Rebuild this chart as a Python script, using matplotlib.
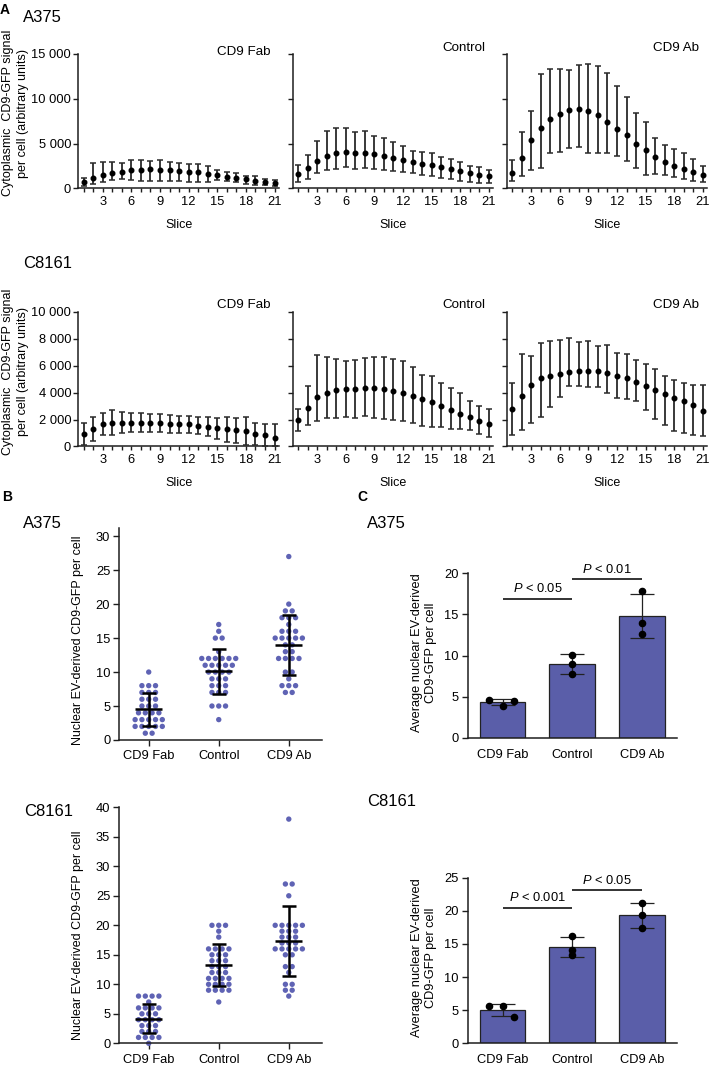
import matplotlib
matplotlib.use("Agg")
import matplotlib.pyplot as plt
import numpy as np
from matplotlib.ticker import FuncFormatter, MultipleLocator, FixedLocator

plt.rcParams['font.family'] = ['Liberation Sans', 'DejaVu Sans']
plt.rcParams['mathtext.fontset'] = 'custom'
plt.rcParams['mathtext.it'] = 'Liberation Sans:italic'
plt.rcParams['mathtext.rm'] = 'Liberation Sans'

# ---------------- data: panel A (mean, lower / upper error limits) ----------------
slices = np.arange(1, 22)
treatments = ["CD9 Fab", "Control", "CD9 Ab"]

a375_fab_mean = [675, 1200, 1500, 1725, 1875, 1990, 2060, 2100, 2060, 2025, 1950, 1875, 1800, 1650, 1500, 1310, 1200, 1010, 825, 710, 600]
a375_fab_hi = [1125, 2850, 2925, 2890, 2850, 3110, 3150, 3075, 3150, 2960, 2850, 2740, 2700, 2475, 1990, 1800, 1725, 1425, 1350, 1050, 975]
a375_fab_lo = [225, 500, 675, 975, 1050, 975, 860, 860, 860, 860, 860, 675, 675, 675, 975, 860, 675, 490, 375, 375, 225]

a375_ctl_mean = [1610, 2290, 3040, 3600, 3940, 4000, 3975, 3940, 3790, 3600, 3375, 3150, 2925, 2740, 2625, 2360, 2175, 1950, 1725, 1540, 1350]
a375_ctl_hi = [2550, 3750, 5290, 6400, 6750, 6700, 6300, 6375, 5890, 5590, 5175, 4760, 4200, 4050, 3900, 3450, 3260, 2960, 2475, 2360, 2025]
a375_ctl_lo = [675, 1050, 1725, 2000, 2175, 2325, 2175, 2250, 2100, 2060, 1910, 1840, 1690, 1500, 1425, 1200, 1050, 860, 750, 560, 560]

a375_ab_mean = [1725, 3375, 5400, 6790, 7690, 8290, 8700, 8850, 8625, 8210, 7425, 6640, 5960, 4990, 4240, 3525, 2925, 2475, 2100, 1800, 1460]
a375_ab_hi = [3110, 6340, 8660, 12750, 13275, 13300, 13240, 13760, 13900, 13690, 12900, 11400, 10200, 8440, 7350, 5625, 4875, 4390, 3940, 3225, 2510]
a375_ab_lo = [860, 1350, 2000, 2250, 3940, 4050, 4540, 4575, 3940, 3940, 3900, 3600, 3075, 2290, 1540, 1610, 1460, 1310, 1050, 790, 750]

c8161_fab_mean = [950, 1300, 1700, 1775, 1775, 1775, 1775, 1750, 1750, 1675, 1650, 1650, 1550, 1475, 1350, 1275, 1200, 1150, 950, 825, 600]
c8161_fab_hi = [1775, 2200, 2525, 2700, 2575, 2500, 2475, 2450, 2425, 2325, 2300, 2275, 2200, 2200, 2150, 2200, 2150, 2175, 1775, 1650, 1650]
c8161_fab_lo = [125, 400, 875, 850, 975, 1050, 1075, 1050, 1075, 1025, 1000, 1025, 900, 750, 550, 350, 250, 125, 125, 0, 0]

c8161_ctl_mean = [2000, 2875, 3675, 4000, 4175, 4250, 4300, 4350, 4325, 4275, 4150, 4000, 3775, 3525, 3300, 3000, 2725, 2450, 2200, 1875, 1650]
c8161_ctl_hi = [2800, 4525, 6800, 6625, 6525, 6375, 6425, 6600, 6675, 6650, 6500, 6350, 5875, 5350, 5250, 4750, 4325, 3950, 3400, 3000, 2825]
c8161_ctl_lo = [1150, 1600, 1875, 2125, 2125, 2200, 2150, 2275, 2100, 2025, 2000, 1875, 1750, 1525, 1450, 1450, 1325, 1300, 1225, 900, 700]

c8161_ab_mean = [2775, 3750, 4550, 5075, 5275, 5375, 5550, 5625, 5625, 5600, 5500, 5275, 5075, 4775, 4500, 4200, 3875, 3600, 3350, 3075, 2650]
c8161_ab_hi = [4725, 6875, 6725, 7700, 7875, 7900, 8050, 7775, 7825, 7500, 7550, 6950, 6850, 6450, 6150, 5750, 5275, 4950, 4725, 4600, 4600]
c8161_ab_lo = [850, 1225, 1775, 2225, 2900, 3650, 4525, 4475, 4400, 4400, 4000, 3600, 3525, 3400, 2700, 2075, 1575, 1125, 1000, 850, 750]

# ---------------- data: panel B (per-cell values) ----------------
b_a375_fab = [10, 8, 8, 8, 7, 7, 7, 6, 6, 6, 5, 5, 5, 4, 4, 4, 4, 3, 3, 3, 3, 3, 2, 2, 2, 2, 2, 1, 1]
b_a375_ctl = [17, 16, 15, 15, 13, 12, 12, 12, 12, 12, 12, 11, 11, 11, 11, 11, 10, 10, 10, 10,
              9, 9, 9, 8, 8, 8, 7, 7, 7, 5, 5, 5, 3]
b_a375_ab = [27, 20, 19, 19, 18, 18, 18, 17, 16, 16, 16, 15, 15, 15, 15, 15, 14, 14, 13, 13,
             12, 12, 12, 12, 10, 10, 9, 8, 8, 8, 7, 7]
b_c8161_fab = [8, 8, 8, 8, 7, 6, 6, 6, 6, 5, 5, 5, 4, 4, 4, 4, 3, 3, 3, 2, 2, 2, 1, 1, 1, 1, 0]
b_c8161_ctl = [20, 20, 20, 19, 18, 16, 16, 16, 16, 15, 15, 15, 14, 14, 14, 13, 13, 13, 12, 12, 12,
               11, 11, 11, 11, 10, 10, 10, 10, 9, 9, 9, 9, 7]
b_c8161_ab = [38, 27, 27, 25, 20, 20, 20, 20, 20, 19, 19, 19, 18, 18, 18, 17, 17, 17, 16, 16, 16, 16, 16,
              15, 15, 13, 13, 12, 10, 10, 9, 9, 8]

# ---------------- data: panel C (replicate averages) ----------------
c_a375_reps = [[4.6, 3.9, 4.45], [10.1, 9.0, 7.7], [17.8, 14.0, 12.6]]
c_c8161_reps = [[5.6, 5.6, 4.0], [16.2, 14.1, 13.3], [21.2, 19.3, 17.4]]
c_a375_p = [("$P$ < 0.05", 0, 1, 16.9), ("$P$ < 0.01", 1, 2, 19.3)]
c_c8161_p = [("$P$ < 0.001", 0, 1, 20.5), ("$P$ < 0.05", 1, 2, 23.1)]

# ---------------- figure ----------------
W, H = 709, 1067
fig = plt.figure(figsize=(W / 100, H / 100), dpi=100)
INK = "#1e1e1e"
DOT_BLUE = "#5f63b4"
BAR_BLUE = "#5a5ea9"
TICK_FS = 9.3
TITLE_FS = 12


def px_axes(left, top, right, bottom):
    return fig.add_axes([left / W, 1 - bottom / H, (right - left) / W, (bottom - top) / H])


def ftext(x, y, s, **kw):
    kw.setdefault("va", "center")
    return fig.text(x / W, 1 - y / H, s, **kw)


def style(ax, lw=1.1):
    for sp in ("top", "right"):
        ax.spines[sp].set_visible(False)
    for sp in ("left", "bottom"):
        ax.spines[sp].set_linewidth(lw)
        ax.spines[sp].set_color(INK)


thousands = FuncFormatter(lambda v, p: f"{int(round(v)):,}".replace(",", " "))

# ---------------- Panel A ----------------
ftext(0, 10, "A", fontsize=10, fontweight="bold", ha="left")
ftext(23, 18, "A375", fontsize=TITLE_FS, ha="left")
ftext(23, 264, "C8161", fontsize=TITLE_FS, ha="left")

rows = [
    dict(top=54, bottom=188.3, ymax=15000, ystep=5000, ylab_y=113,
         series=[(a375_fab_mean, a375_fab_lo, a375_fab_hi),
                 (a375_ctl_mean, a375_ctl_lo, a375_ctl_hi),
                 (a375_ab_mean, a375_ab_lo, a375_ab_hi)], label_y=[52, 48, 48]),
    dict(top=312, bottom=446.5, ymax=10000, ystep=2000, ylab_y=372,
         series=[(c8161_fab_mean, c8161_fab_lo, c8161_fab_hi),
                 (c8161_ctl_mean, c8161_ctl_lo, c8161_ctl_hi),
                 (c8161_ab_mean, c8161_ab_lo, c8161_ab_hi)], label_y=[305, 305, 305]),
]
panel_left = [78.3, 292.7, 506.7]
slice_px = 9.55
x0 = 0.45
x1 = 21.45
for row in rows:
    hgt = row["bottom"] - row["top"]
    for i, (m, lo, hi) in enumerate(row["series"]):
        L = panel_left[i]
        R = L + (x1 - x0) * slice_px
        ax = px_axes(L, row["top"], R, row["bottom"])
        m = np.array(m, float)
        lo = np.array(lo, float)
        hi = np.array(hi, float)
        ax.errorbar(slices, m, yerr=[m - lo, hi - m], fmt="o", ms=3.3, color="black",
                    ecolor="#2a2a2a", elinewidth=1.3, capsize=2.4, capthick=1.1, clip_on=False, zorder=3)
        ax.set_xlim(x0, x1)
        ax.set_ylim(0, row["ymax"])
        style(ax)
        ax.xaxis.set_major_locator(FixedLocator(np.arange(3, 22, 3)))
        ax.xaxis.set_minor_locator(MultipleLocator(1))
        ax.yaxis.set_major_locator(MultipleLocator(row["ystep"]))
        ax.yaxis.set_major_formatter(thousands)
        ax.tick_params(axis="x", which="both", length=3.2, width=1.0, color=INK, labelsize=TICK_FS, pad=2.5)
        ax.tick_params(axis="y", length=3.6, width=1.0, color=INK, labelsize=TICK_FS, pad=1.5)
        if i > 0:
            ax.tick_params(axis="y", labelleft=False)
        ax.set_xlabel("Slice", fontsize=9)
        ax.xaxis.label.set_va("center")
        ax.xaxis.set_label_coords(0.5, -(225 - 188.3) / hgt)
        ax.text(0.96, (row["bottom"] - row["label_y"][i]) / hgt,
                treatments[i], transform=ax.transAxes, ha="right", va="center", fontsize=9.6)
    ftext(15.5, row["ylab_y"], "Cytoplasmic  CD9-GFP signal\nper cell (arbitrary units)",
          rotation=90, ha="center", fontsize=9, linespacing=1.25)

# ---------------- Panel B ----------------
ftext(2, 497, "B", fontsize=10, fontweight="bold", ha="left")
ftext(23, 523, "A375", fontsize=TITLE_FS, ha="left")
ftext(24, 812, "C8161", fontsize=TITLE_FS, ha="left")

b_panels = [
    dict(top=528, bottom=740, ymax=31.2, ymaxtick=30, step=5, ylab_y=640,
         groups=[b_a375_fab, b_a375_ctl, b_a375_ab]),
    dict(top=807.3, bottom=1043.3, ymax=40, ymaxtick=40, step=5, ylab_y=935,
         groups=[b_c8161_fab, b_c8161_ctl, b_c8161_ab]),
]
for bp in b_panels:
    ax = px_axes(119.3, bp["top"], 321.7, bp["bottom"])
    spacing = 0.097
    for gi, vals in enumerate(bp["groups"]):
        vals = np.array(vals, float)
        xs, ys = [], []
        for v in np.unique(vals):
            n = int(np.sum(vals == v))
            offs = (np.arange(n) - (n - 1) / 2) * spacing
            xs.extend(gi + offs)
            ys.extend([v] * n)
        ax.scatter(xs, ys, s=15, color=DOT_BLUE, edgecolors="none", zorder=2, clip_on=False)
        mu = vals.mean()
        sd = vals.std(ddof=1)
        ax.hlines(mu, gi - 0.19, gi + 0.19, color="black", lw=1.8, zorder=3)
        ax.vlines(gi, mu - sd, mu + sd, color="black", lw=1.8, zorder=3)
        ax.hlines([mu - sd, mu + sd], gi - 0.1, gi + 0.1, color="black", lw=1.8, zorder=3)
    ax.set_xlim(-0.42, 2.47)
    ax.set_ylim(0, bp["ymax"])
    ax.set_yticks(np.arange(0, bp["ymaxtick"] + 0.1, bp["step"]))
    ax.set_xticks([0, 1, 2])
    ax.set_xticklabels(treatments)
    style(ax)
    ax.tick_params(axis="both", length=4.5, width=1.0, color=INK, labelsize=TICK_FS)
    ax.tick_params(axis="x", pad=3)
    ax.tick_params(axis="y", pad=2)
    ftext(78, bp["ylab_y"], "Nuclear EV-derived CD9-GFP per cell", rotation=90, ha="center", fontsize=9)

# ---------------- Panel C ----------------
ftext(357, 497, "C", fontsize=10, fontweight="bold", ha="left")
ftext(367, 523, "A375", fontsize=TITLE_FS, ha="left")
ftext(367, 802, "C8161", fontsize=TITLE_FS, ha="left")

c_panels = [
    dict(top=573.3, bottom=737.7, ymax=20, ylab_y=653, reps=c_a375_reps, p=c_a375_p),
    dict(top=877.7, bottom=1043.3, ymax=25, ylab_y=958, reps=c_c8161_reps, p=c_c8161_p),
]
rep_offsets = [[-0.19, 0.0, 0.16], [0.0, 0.0, 0.0], [0.0, 0.0, 0.0]]
for cp in c_panels:
    ax = px_axes(467.7, cp["top"], 676.7, cp["bottom"])
    reps = [np.array(r, float) for r in cp["reps"]]
    means = [r.mean() for r in reps]
    sds = [r.std(ddof=1) for r in reps]
    xs = np.arange(3)
    ax.bar(xs, means, width=0.655, color=BAR_BLUE, edgecolor="#222222", linewidth=0.9, zorder=1)
    ax.errorbar(xs, means, yerr=sds, fmt="none", ecolor="#222222", elinewidth=0.9,
                capsize=8.5, capthick=0.9, zorder=2)
    for gi, r in enumerate(reps):
        ax.scatter(gi + np.array(rep_offsets[gi]), r, s=20, color="black", zorder=3)
    for text, a, b, y in cp["p"]:
        ax.plot([a, b], [y, y], color="#333333", lw=1.4, solid_capstyle="butt")
        ax.text((a + b) / 2, y + cp["ymax"] * 0.02, text, ha="center", va="bottom", fontsize=TICK_FS)
    ax.set_xlim(-0.5, 2.5)
    ax.set_ylim(0, cp["ymax"])
    ax.set_yticks(np.arange(0, cp["ymax"] + 0.1, 5))
    ax.set_xticks(xs)
    ax.set_xticklabels(treatments)
    style(ax)
    ax.tick_params(axis="y", length=4.5, width=1.0, color=INK, labelsize=TICK_FS, pad=2)
    ax.tick_params(axis="x", length=0, labelsize=TICK_FS, pad=8)
    ftext(424, cp["ylab_y"], "Average nuclear EV-derived\nCD9-GFP per cell", rotation=90,
          ha="center", fontsize=9.2, linespacing=1.2)

fig.savefig("out.png", dpi=100)
